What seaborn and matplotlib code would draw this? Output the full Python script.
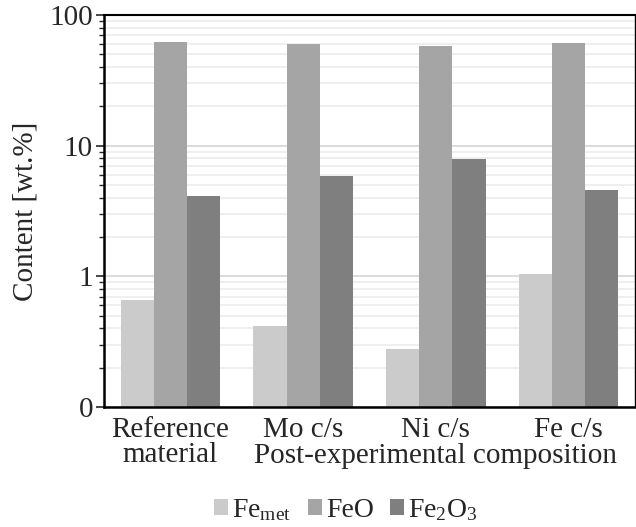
import matplotlib
matplotlib.use("Agg")
import matplotlib.pyplot as plt
import matplotlib.ticker as mticker
import matplotlib.transforms as mtrans
import seaborn as sns
import pandas as pd

categories = ["Reference\nmaterial", "Mo c/s", "Ni c/s", "Fe c/s"]
series_names = ["Fe$_{\\mathrm{met}}$", "FeO", "Fe$_2$O$_3$"]
fe_met = [0.66, 0.42, 0.28, 1.05]
feo = [62, 60, 58, 61]
fe2o3 = [4.1, 5.9, 7.9, 4.6]
colors = ["#cbcbcb", "#a5a5a5", "#7f7f7f"]
ytick_vals = [0.1, 1, 10, 100]
ytick_labels = ["0", "1", "10", "100"]
group_label = "Post-experimental composition"

rows = []
for name, vals in zip(series_names, [fe_met, feo, fe2o3]):
    for c, v in zip(categories, vals):
        rows.append({"category": c, "series": name, "value": v})
df = pd.DataFrame(rows)

sns.set_style("white")
plt.rcParams["font.family"] = ["Liberation Serif", "DejaVu Serif"]
plt.rcParams["mathtext.fontset"] = "custom"
plt.rcParams["mathtext.rm"] = "Liberation Serif"
plt.rcParams["mathtext.it"] = "Liberation Serif:italic"

fig = plt.figure(figsize=(6.36, 5.27), dpi=100)
ax = fig.add_axes([104/636, 1-407/527, (635-104)/636, (407-15)/527])

sns.barplot(data=df, x="category", y="value", hue="series", order=categories,
            hue_order=series_names, palette=colors, width=0.75, ax=ax,
            saturation=1, edgecolor="none", linewidth=0, legend=True)
ax.set_yscale("log")
ax.set_ylim(0.1, 100)
ax.set_xlim(-0.5, 3.5)

ax.yaxis.set_major_locator(mticker.FixedLocator(ytick_vals))
ax.yaxis.set_major_formatter(mticker.FixedFormatter(ytick_labels))
ax.yaxis.set_minor_locator(mticker.LogLocator(base=10, subs=range(2, 10)))
ax.yaxis.set_minor_formatter(mticker.NullFormatter())
ax.grid(True, which="major", axis="y", color="#d6d6d6", linewidth=1.2)
ax.grid(True, which="minor", axis="y", color="#ececec", linewidth=1.2)
ax.set_axisbelow(True)

ax.tick_params(axis="y", which="major", left=True, direction="out", length=6, width=1.2, labelsize=21, pad=2)
ax.tick_params(axis="y", which="minor", left=True, direction="out", length=3.5, width=1.0)
ax.tick_params(axis="x", bottom=False, labelsize=21, pad=4)
for lab in ax.get_xticklabels():
    lab.set_linespacing(0.95)

for side in ["left", "bottom", "top", "right"]:
    ax.spines[side].set_visible(True)
    ax.spines[side].set_color("black")
ax.spines["left"].set_linewidth(1.8)
ax.spines["bottom"].set_linewidth(1.8)
ax.spines["top"].set_linewidth(1.5)
ax.spines["right"].set_linewidth(1.0)

ax.set_xlabel("")
ax.set_ylabel("Content [wt.%]", fontsize=21, labelpad=8)

trans = mtrans.blended_transform_factory(ax.transData, ax.transAxes)
ax.text(2.0, -0.125, group_label, transform=trans, ha="center", va="center", fontsize=21)

handles, labels = ax.get_legend_handles_labels()
ax.legend_.remove()
fig.legend(handles, labels, loc="center", bbox_to_anchor=(346/636, 1-510/527),
           ncol=3, frameon=False, fontsize=20, handlelength=0.5, handleheight=0.5,
           handletextpad=0.15, columnspacing=0.6)

fig.savefig("out.png", dpi=100)
